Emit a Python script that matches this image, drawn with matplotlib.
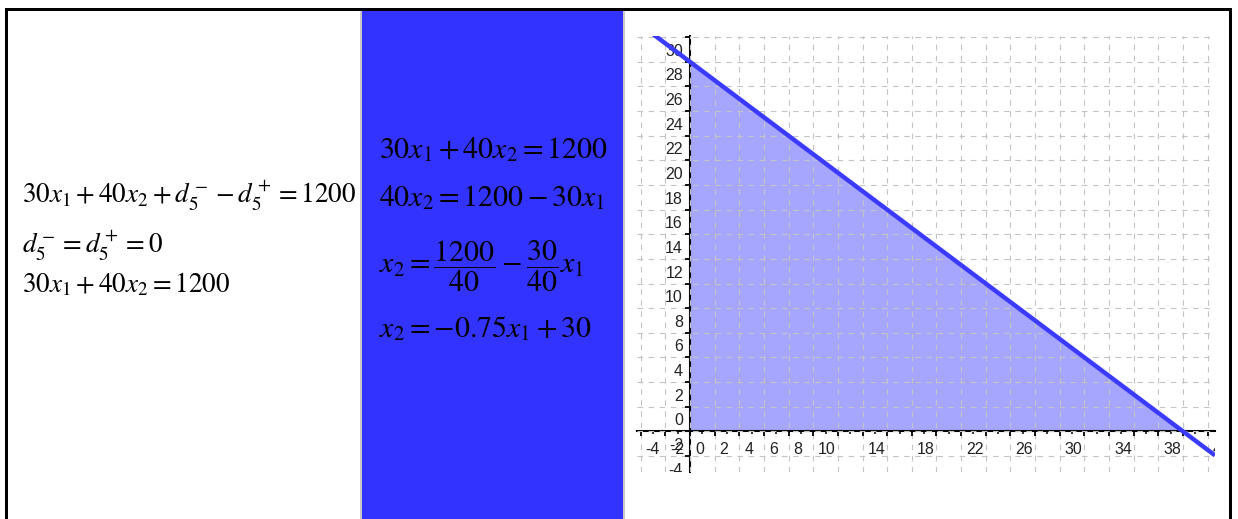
import matplotlib
matplotlib.use('Agg')
import matplotlib.pyplot as plt
import matplotlib.transforms as mtransforms
from matplotlib.patches import Rectangle
import numpy as np

plt.rcParams['mathtext.fontset'] = 'stix'

# goal constraint 30 x1 + 40 x2 = 1200
a_coef = 30
b_coef = 40
rhs = 1200

left_lines = [r'$30x_1+40x_2+d_5^- - d_5^+ = 1200$',
              r'$d_5^- = d_5^+ = 0$',
              r'$30x_1+40x_2=1200$']
mid_lines = [r'$30x_1+40x_2=1200$',
             r'$40x_2=1200-30x_1$',
             r'$x_2=\dfrac{1200}{40}-\dfrac{30}{40}x_1$',
             r'$x_2=-0.75x_1+30$']

x_tick_labels = [-4, -2, 0, 2, 4, 6, 8, 10, 14, 18, 22, 26, 30, 34, 38, 42]
y_tick_labels = [-4, -2, 0, 2, 4, 6, 8, 10, 12, 14, 16, 18, 20, 22, 24, 26, 28, 30]

W, H = 1238, 519
fig = plt.figure(figsize=(W / 100, H / 100), dpi=100)


def fx(px):
    return px / W


def fy(py):
    return 1 - py / H


def rect(x0, y0, x1, y1, color):
    fig.add_artist(Rectangle((fx(x0), fy(y1)), fx(x1) - fx(x0), fy(y0) - fy(y1),
                             transform=fig.transFigure, facecolor=color,
                             edgecolor='none', zorder=0))


# table cells and borders
rect(361, 10, 623, H, '#3333ff')
rect(360, 10, 361.5, H, '#c8c8c8')
rect(623, 10, 625, H, '#c8c8c8')
rect(5, 8, 1231.5, 10.5, 'black')
rect(5, 8, 7.5, H, 'black')
rect(1229, 8, 1231.5, H, 'black')

# equations
left_base = [203, 253, 292]
for s, b in zip(left_lines, left_base):
    fig.text(fx(22), fy(b), s, fontsize=19.5, va='baseline', ha='left')
mid_base = [158, 206, 273, 337]
for s, b in zip(mid_lines, mid_base):
    fig.text(fx(379), fy(b), s, fontsize=21.5, va='baseline', ha='left')

# graph
ax = fig.add_axes([fx(637), fy(472), fx(1215) - fx(637), fy(36) - fy(472)])
ax.set_xlim(-4.3, 42.6)
ax.set_ylim(-3.3, 32.1)

x_int = rhs / a_coef
y_int = rhs / b_coef
ax.fill([0, 0, x_int], [0, y_int, 0], color='#a6a6ff', lw=0, zorder=1)
xs = np.array(ax.get_xlim())
ax.plot(xs, (rhs - a_coef * xs) / b_coef, color='#3b3bff', lw=3.2, zorder=3,
        solid_capstyle='butt')

ax.set_xticks(np.arange(-4, 43, 2))
ax.set_yticks(np.arange(-2, 33, 2))
ax.set_xticks(np.arange(-4, 43, 1), minor=True)
ax.grid(True, which='major', color='#c4c4c4', lw=0.8, linestyle=(0, (5, 5)))
ax.set_axisbelow(False)
ax.tick_params(labelbottom=False, labelleft=False)
ax.tick_params(which='major', direction='out', length=3.5, width=1.3)
ax.tick_params(which='minor', direction='out', length=2.5, width=1.1)
ax.spines['left'].set_position(('data', 0))
ax.spines['bottom'].set_position(('data', 0))
for s in ['left', 'bottom']:
    ax.spines[s].set_linewidth(1.5)
for s in ['top', 'right']:
    ax.spines[s].set_visible(False)

xt = mtransforms.offset_copy(ax.transData, fig=fig, x=5, y=-11, units='dots')
for v in x_tick_labels:
    ax.text(v, 0, str(v), transform=xt, ha='left', va='top', fontsize=11.5,
            family='Liberation Sans', color='#222222', clip_on=True, zorder=2.6)
yt = mtransforms.offset_copy(ax.transData, fig=fig, x=-7, y=3, units='dots')
for v in y_tick_labels:
    ax.text(0, v, str(v), transform=yt, ha='right', va='bottom', fontsize=11.5,
            family='Liberation Sans', color='#222222', clip_on=True, zorder=2.6)

fig.savefig('out.png', dpi=100)
